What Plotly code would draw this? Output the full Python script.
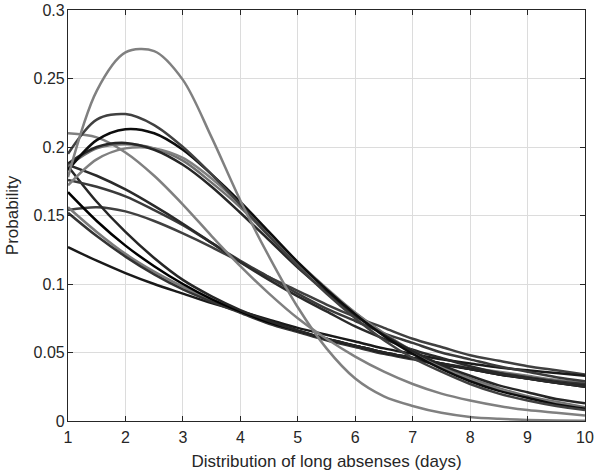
import plotly.graph_objects as go

x_days = [1, 1.5, 2, 2.5, 3, 3.5, 4, 4.5, 5, 5.5, 6, 6.5, 7, 7.5, 8, 8.5, 9, 9.5, 10]

tall_gray = [0.178, 0.241, 0.269, 0.270, 0.249, 0.207, 0.161, 0.120, 0.083, 0.053, 0.031, 0.018, 0.011, 0.006, 0.003, 0.0016, 0.0008, 0.0004, 0.0002]
peak_a = [0.195, 0.220, 0.224, 0.216, 0.200, 0.180, 0.158, 0.135, 0.113, 0.093, 0.075, 0.059, 0.046, 0.036, 0.027, 0.020, 0.015, 0.011, 0.008]
peak_b = [0.183, 0.205, 0.213, 0.210, 0.198, 0.180, 0.160, 0.138, 0.116, 0.096, 0.078, 0.062, 0.049, 0.038, 0.029, 0.022, 0.017, 0.012, 0.009]
peak_c = [0.188, 0.200, 0.203, 0.198, 0.187, 0.171, 0.152, 0.132, 0.112, 0.094, 0.077, 0.063, 0.051, 0.041, 0.033, 0.026, 0.021, 0.016, 0.013]
peak_d = [0.172, 0.191, 0.199, 0.199, 0.192, 0.177, 0.158, 0.137, 0.116, 0.097, 0.079, 0.063, 0.050, 0.039, 0.030, 0.023, 0.017, 0.013, 0.009]
peak_e = [0.186, 0.199, 0.202, 0.199, 0.190, 0.174, 0.156, 0.135, 0.115, 0.096, 0.079, 0.064, 0.051, 0.040, 0.031, 0.024, 0.018, 0.014, 0.010]
early_gray = [0.210, 0.207, 0.196, 0.179, 0.158, 0.135, 0.113, 0.093, 0.075, 0.060, 0.047, 0.036, 0.027, 0.020, 0.015, 0.011, 0.008, 0.006, 0.004]
mid_a = [0.187, 0.179, 0.169, 0.157, 0.144, 0.130, 0.116, 0.103, 0.091, 0.080, 0.069, 0.060, 0.052, 0.046, 0.040, 0.035, 0.031, 0.028, 0.025]
mid_b = [0.176, 0.171, 0.164, 0.154, 0.143, 0.130, 0.117, 0.105, 0.093, 0.082, 0.073, 0.064, 0.057, 0.050, 0.045, 0.040, 0.036, 0.032, 0.029]
mid_c = [0.154, 0.156, 0.153, 0.146, 0.137, 0.127, 0.116, 0.105, 0.095, 0.085, 0.076, 0.068, 0.060, 0.054, 0.048, 0.044, 0.040, 0.037, 0.034]
steep_a = [0.186, 0.160, 0.138, 0.119, 0.103, 0.091, 0.081, 0.073, 0.066, 0.060, 0.055, 0.050, 0.046, 0.042, 0.038, 0.034, 0.031, 0.028, 0.026]
steep_b = [0.167, 0.146, 0.128, 0.113, 0.100, 0.089, 0.080, 0.072, 0.066, 0.060, 0.055, 0.050, 0.046, 0.042, 0.038, 0.034, 0.031, 0.028, 0.025]
steep_c = [0.156, 0.138, 0.122, 0.109, 0.098, 0.088, 0.080, 0.072, 0.066, 0.060, 0.055, 0.050, 0.046, 0.042, 0.039, 0.036, 0.033, 0.030, 0.028]
steep_d = [0.152, 0.135, 0.120, 0.107, 0.096, 0.087, 0.079, 0.071, 0.065, 0.059, 0.054, 0.049, 0.045, 0.041, 0.038, 0.035, 0.032, 0.029, 0.027]
flat_low = [0.127, 0.117, 0.108, 0.100, 0.093, 0.086, 0.080, 0.074, 0.068, 0.063, 0.058, 0.053, 0.049, 0.045, 0.042, 0.039, 0.037, 0.035, 0.033]

series = [
    (mid_c, "#404040"),
    (flat_low, "#1a1a1a"),
    (steep_c, "#7a7a7a"),
    (steep_d, "#333333"),
    (steep_b, "#000000"),
    (steep_a, "#262626"),
    (mid_b, "#3a3a3a"),
    (mid_a, "#2a2a2a"),
    (early_gray, "#808080"),
    (peak_e, "#707070"),
    (peak_d, "#808080"),
    (peak_c, "#262626"),
    (peak_b, "#0d0d0d"),
    (peak_a, "#404040"),
    (tall_gray, "#808080"),
]

x_ticks = [1, 2, 3, 4, 5, 6, 7, 8, 9, 10]
y_ticks = [0, 0.05, 0.1, 0.15, 0.2, 0.25, 0.3]
y_tick_labels = ["0", "0.05", "0.1", "0.15", "0.2", "0.25", "0.3"]

fig = go.Figure()
for vals, col in series:
    fig.add_trace(go.Scatter(
        x=x_days, y=vals, mode="lines",
        line=dict(color=col, width=2.5, shape="spline", smoothing=0.9),
        showlegend=False, hoverinfo="skip",
    ))

axis_common = dict(
    showline=True, linecolor="#262626", linewidth=1.2, mirror="ticks",
    ticks="inside", ticklen=5, tickcolor="#262626", tickwidth=1.2,
    showgrid=True, gridcolor="#dcdcdc", gridwidth=1, zeroline=False,
    ticklabeloverflow="allow", automargin=False,
    tickfont=dict(family="Liberation Sans, Arial, sans-serif", size=16, color="#262626"),
)

fig.update_layout(
    width=595, height=475,
    margin=dict(l=68, r=10, t=10, b=54),
    paper_bgcolor="white", plot_bgcolor="white",
    font=dict(family="Liberation Sans, Arial, sans-serif", color="#262626"),
    xaxis=dict(range=[1, 10], tickvals=x_ticks, ticklabelstandoff=2,
               title=dict(text="Distribution of long absenses (days)", font=dict(size=17), standoff=9),
               **axis_common),
    yaxis=dict(range=[0, 0.3], tickvals=y_ticks, ticktext=y_tick_labels, ticklabelstandoff=-1,
               title=dict(text="Probability", font=dict(size=17), standoff=10),
               **axis_common),
)

fig.write_html("out.html", config={"displayModeBar": False},
               post_script="document.body.style.margin='0';document.body.style.padding='0';")
